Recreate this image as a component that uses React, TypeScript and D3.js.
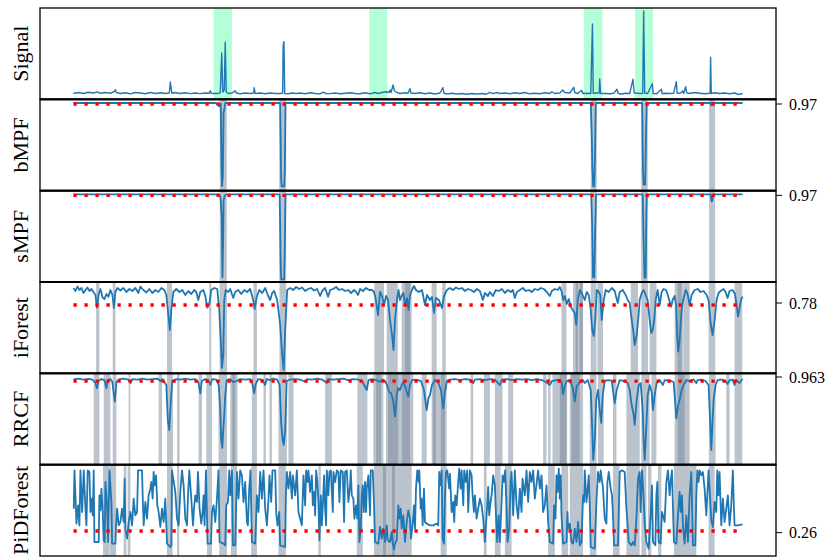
import React from 'react';
import * as d3 from 'd3';

type Pt = [number, number];
type Span = [number, number];

// Raw signal amplitude (time, value)
const signal: Pt[] = [
  [0, 6.5], [5, 7.5], [10, 6.5], [15, 7.7], [20, 7], [24, 8.2], [27, 6.7], [32, 7.5], [37, 6.7], [41, 8.5], [42, 10.3], [43, 7.5],
  [47, 6.5], [52, 7.2], [57, 6.2], [62, 7.5], [67, 7], [72, 6.3], [77, 7.5], [82, 6.5], [87, 7.2], [92, 6.5], [96, 7], [97, 18],
  [98.5, 6.8], [102, 7.5], [107, 6.5], [112, 7.2], [117, 6.4], [122, 7], [127, 6.4], [132, 7], [136, 6.7], [137, 9.3], [138, 6.7],
  [142, 6.5], [146, 6.7], [147, 8], [148.5, 47], [149.5, 8], [151, 10], [152, 57.7], [153, 8], [155, 6.5], [159, 7], [162, 9.3],
  [163, 7], [167, 6.2], [172, 7], [177, 6.5], [180.5, 7], [181, 12.3], [182, 6.5], [187, 7], [192, 6.2], [197, 7], [202, 6.5],
  [207, 6.5], [209.5, 7], [210, 55], [210.8, 58.3], [211.5, 6.5], [215, 6.2], [219, 7], [223, 6.5], [227, 7], [232, 6.2],
  [237, 7.2], [242, 6.5], [247, 6.2], [250, 7.8], [253, 6.5], [257, 6.4], [262, 7], [267, 6.2], [272, 6.8], [277, 7.2],
  [282, 6.5], [287, 6.2], [292, 7.2], [297, 6.2], [302, 7.5], [305, 6.5], [309, 7.5], [313, 8.2], [316, 7.5], [317, 10],
  [318, 7.5], [320, 15], [321.5, 9], [324, 7.5], [327, 6.5], [332, 7.2], [335, 6.7], [337, 11.3], [338, 7], [342, 6.5],
  [347, 7.2], [352, 6.2], [357, 7], [362, 6], [367, 7], [370, 12.3], [371, 6.7], [375, 6], [379, 6.8], [384, 6], [389, 6.5],
  [394, 5.7], [399, 6.5], [404, 6], [409, 6.5], [413, 5.7], [417, 7.7], [420, 6.4], [424, 7.5], [427, 6.5], [432, 7],
  [437, 6.2], [442, 7.2], [447, 6.5], [452, 7.5], [457, 6.2], [462, 6.8], [467, 6.2], [472, 7.2], [477, 6.5], [479, 8.2],
  [482, 6.5], [487, 7], [490, 10], [492, 7.5], [497, 7], [501, 12.7], [502, 7.5], [505, 6.5], [508.7, 9.7], [510, 6.5],
  [514, 6.7], [518, 6.5], [519.7, 76], [520.5, 6.5], [523, 7], [526.5, 7], [527, 21], [527.8, 6.5], [532, 6.5], [537, 6.2],
  [541, 6.8], [544.3, 10.7], [545.5, 6.5], [549, 6], [553, 6.7], [557, 6.5], [560.3, 20.7], [561.5, 7], [565, 6.7],
  [568, 6.5], [570, 6.7], [571, 89], [572, 7], [575, 6.5], [579.7, 16.3], [580.5, 6.5], [584, 6.2], [588.7, 10.7],
  [589.5, 6.5], [593, 6.8], [597, 6.5], [601, 6.7], [603.7, 18.3], [604.5, 6.8], [608, 7], [610, 9], [611, 6.5],
  [613, 13.3], [614, 7.2], [617, 6.5], [622, 7.5], [627, 6.8], [632, 6.2], [637.5, 6.8], [638, 42.7], [638.7, 6.5],
  [642, 7.2], [647, 6.5], [652, 7], [657, 6.2], [662, 7], [666, 5.5], [670, 6.5],
];

// Matrix-profile scores
const bmpf: Pt[] = [
  [0, 1.0], [142, 1.0], [144, 0.97], [146, 0.9], [147.5, 0.99], [148.3, -1.0], [148.8, -1.49], [149.6, -1.2], [150.3, 0.7],
  [151.3, 0.85], [152, 1.0], [207, 1.0], [208, -1.3], [208.5, -1.5], [211, -1.5], [211.7, -1.0], [212.3, 1.0], [518, 1.0],
  [519, 0.0], [519.7, -1.0], [520.5, -1.5], [521.5, -1.5], [522.3, -0.5], [523, 1.0], [569.5, 1.0], [570.3, -1.0],
  [571, -1.45], [572.5, -1.45], [573.3, 0.0], [574, 1.0], [638, 1.0], [638.7, 0.93], [639.3, 1.0], [670, 1.0],
];

const smpf: Pt[] = [
  [0, 1.0], [146, 1.0], [147.3, 0.9], [148.5, 0.3], [149.2, -1.49], [149.8, -0.5], [150.3, 0.8], [151.5, 0.96], [153, 1.0],
  [206.5, 1.0], [207.5, -1.0], [208, -1.55], [211, -1.55], [211.7, -0.5], [212.3, 1.0], [518.5, 1.0], [519.5, 0.0],
  [520.3, -1.49], [521.5, -1.49], [522.5, 0.0], [523.3, 1.0], [570, 1.0], [571, -0.5], [571.8, -1.5], [573, -1.5],
  [573.7, 0.5], [574.3, 1.0], [638, 1.0], [639, 0.79], [639.7, 0.8], [640.5, 1.0], [670, 1.0],
];

// Isolation forest scores
const iforest: Pt[] = [
  [0, .795], [2, .792], [4, .7965], [6, .793], [8, .795], [10, .790], [12, .793], [14, .7955], [16, .792], [18, .794],
  [20, .791], [22, .788], [23.5, .7753], [25, .788], [27, .794], [29, .786], [31, .784], [33, .789], [35, .7863], [37, .793],
  [39, .788], [40.5, .775], [42, .791], [44, .795], [47, .7925], [50, .795], [53, .791], [56, .794], [59, .792], [62, .795],
  [65, .790], [67, .7963], [70, .793], [73, .7905], [76, .794], [79, .790], [82, .793], [85, .791], [88, .795], [91, .793],
  [93, .788], [95, .768], [96.5, .753], [98, .773], [100, .791], [103, .794], [106, .791], [109, .793], [112, .788],
  [115, .792], [118, .789], [121, .793], [123, .791], [125, .783], [127, .791], [130, .793], [132, .787], [134, .7753],
  [136, .779], [138, .793], [141, .795], [144, .794], [146, .773], [147.5, .743], [148.7, .715], [150, .728], [151, .783],
  [152.5, .793], [155, .791], [157, .794], [160, .785], [162, .791], [165, .793], [168, .789], [171, .793], [174, .791],
  [177, .794], [180, .783], [181.5, .774], [183.5, .786], [186, .793], [189, .790], [192, .795], [195, .787], [197, .783],
  [199, .790], [201, .792], [204, .783], [207, .758], [209, .728], [210.5, .713], [212, .753], [214, .793], [217, .795],
  [220, .793], [223, .796], [226, .794], [229, .7955], [232, .792], [235, .794], [238, .795], [241, .7925], [244, .794],
  [247, .787], [249, .792], [252, .795], [255, .7863], [257, .793], [260, .794], [263, .796], [266, .793], [269, .794],
  [272, .792], [275, .793], [278, .790], [281, .793], [283, .791], [285, .788], [287, .794], [290, .792], [293, .795],
  [296, .793], [299, .793], [301, .791], [302.5, .785], [305, .768], [307, .791], [309, .787], [311, .778], [313, .787],
  [315, .783], [317, .763], [319, .748], [320.5, .733], [322, .763], [324, .783], [325.5, .793], [327, .783], [329, .788],
  [330.5, .790], [332, .778], [334, .785], [335.5, .773], [337, .788], [339, .793], [341, .797], [343, .793], [346, .791],
  [349, .793], [352, .778], [354, .788], [357, .783], [359, .786], [361, .770], [363, .785], [366, .783], [369, .775],
  [371, .787], [374, .793], [377, .795], [380, .793], [383, .7955], [386, .794], [389, .795], [392, .792], [395, .794],
  [398, .793], [401, .791], [404, .794], [407, .792], [410, .783], [412, .790], [415, .787], [417, .791], [420, .787],
  [423, .793], [426, .792], [429, .794], [432, .790], [435, .793], [438, .791], [440, .793], [442, .785], [444, .791],
  [447, .793], [450, .795], [453, .792], [456, .793], [459, .791], [462, .794], [465, .793], [468, .795], [471, .794],
  [474, .791], [477, .787], [479, .792], [482, .794], [485, .793], [487, .796], [489, .791], [490.5, .783], [492, .787],
  [494, .779], [496, .784], [498, .776], [500, .773], [502, .770], [503.5, .758], [505, .783], [507, .793], [509, .790],
  [512, .783], [514, .791], [516, .788], [518, .773], [519.5, .753], [521, .747], [522.5, .763], [524, .793], [526, .791],
  [527.5, .788], [529, .763], [531, .783], [533, .793], [536, .791], [539, .795], [542, .792], [545, .780], [547, .791],
  [550, .793], [553, .788], [555, .783], [557, .780], [559, .763], [560.5, .753], [562, .738], [564, .748], [565.5, .763],
  [567, .783], [569, .790], [571, .793], [573, .788], [575, .783], [577, .763], [578.5, .750], [580, .753], [581.5, .763],
  [583, .783], [585, .793], [587, .778], [589, .791], [591, .794], [593.5, .793], [596, .785], [598.5, .7763], [600, .783],
  [602, .787], [603.5, .778], [604.5, .748], [605.5, .7313], [607, .743], [609, .773], [610.5, .783], [613, .793],
  [615, .789], [617, .778], [619, .788], [622, .793], [625, .794], [628, .791], [631, .792], [634, .788], [636, .783],
  [638, .760], [640, .748], [642, .763], [644, .783], [646, .790], [648, .792], [651, .794], [653, .791], [655, .785],
  [657, .792], [660, .793], [662.5, .789], [664, .778], [665.5, .7663], [667, .775], [668.5, .783], [670, .7863],
];

// Robust random cut forest scores
const rrcf: Pt[] = [
  [0, .96277], [5, .96285], [10, .96275], [15, .96282], [19, .96275], [22, .9624], [23.5, .96187], [25, .9626], [28, .9628],
  [31, .9627], [33, .9619], [34.5, .9627], [37, .9628], [39, .9625], [40.5, .9612], [41.5, .96053], [43, .9625], [46, .9628],
  [50, .96285], [55, .96275], [57, .9624], [59, .9628], [64, .96275], [69, .96285], [74, .96275], [79, .9628], [84, .96285],
  [87, .9626], [89, .9628], [93, .9622], [94.5, .9587], [96, .9577], [97.5, .9607], [99, .9626], [103, .9628], [107, .96275],
  [112, .96285], [117, .96275], [122, .9628], [125, .9625], [127, .96137], [128.5, .9626], [132, .9628], [135, .9627],
  [137, .9622], [139, .9628], [143, .96275], [145.5, .9622], [147, .9597], [148, .9567], [149, .9559], [150, .9577],
  [151, .9592], [152, .9612], [153.5, .9627], [157, .9628], [160, .9625], [163, .9626], [167, .9628], [172, .96275],
  [177, .9628], [179.5, .9622], [181, .9614], [182.5, .9623], [185, .9628], [189, .96275], [192, .9622], [193.5, .9628],
  [197, .9627], [200, .96285], [204, .96275], [206.5, .9622], [208, .9584], [209.5, .9567], [210.5, .9562], [212, .9577],
  [213.5, .9626], [217, .96275], [222, .9628], [227, .96275], [232, .96253], [234, .9628], [239, .96275], [244, .96285],
  [249, .96275], [253.7, .9624], [255, .9628], [260, .96275], [265, .9628], [270, .96285], [275, .9627], [280, .9628],
  [285, .96275], [289, .9626], [293.7, .9617], [295.5, .9627], [299, .9628], [303, .9627], [307, .9625], [309, .96275],
  [312, .9626], [314, .9622], [316, .9615], [318, .9614], [320, .9607], [322, .95903], [323.7, .9612], [325, .9619],
  [327, .9617], [329, .9623], [330.3, .9625], [332, .9621], [335.3, .96103], [337, .9622], [339, .9627], [342, .96275],
  [345, .9627], [348, .9626], [351, .9617], [353.7, .9597], [355.5, .9609], [357, .9612], [359, .9622], [362, .9627],
  [365, .9625], [368, .9617], [370.3, .95987], [372, .9615], [374, .9626], [377, .96275], [382, .9628], [387, .9627],
  [392, .9628], [397, .96275], [400.3, .9624], [402, .96275], [407, .9628], [412, .9627], [417, .9628], [422, .96275],
  [427, .9622], [429, .96275], [434, .9628], [439, .9627], [444, .9628], [449, .96275], [454, .9628], [459, .9627],
  [464, .9628], [469, .9627], [473, .9625], [477, .9622], [479, .9626], [483, .9627], [487, .96275], [489, .9624],
  [490.3, .96127], [492, .9621], [494, .9626], [497, .9627], [500, .9619], [502, .96053], [504, .9621], [507, .9625],
  [510, .9627], [512, .9624], [515, .9627], [518, .9617], [519.5, .9577], [520.5, .9547], [522, .9567], [523.5, .9607],
  [525.3, .9617], [527, .9597], [528.5, .9584], [530, .9612], [532, .9626], [535, .9627], [539, .96265], [542, .96037],
  [544, .9617], [547, .9627], [552, .9626], [555, .9624], [557, .9617], [559, .9602], [561, .9592], [562, .9582],
  [564, .9607], [566, .9622], [568, .9624], [570, .9597], [571, .9567], [572, .9547], [573.5, .9577], [575, .9612],
  [577, .9622], [579, .9615], [580.3, .9597], [582, .9612], [584, .9624], [587, .9627], [590.3, .9622], [592, .9627],
  [597, .96265], [601, .9625], [603.7, .95887], [605.5, .9602], [607, .9607], [609, .9617], [611, .9622], [614, .9627],
  [617, .9626], [621, .96275], [623.7, .9624], [625, .9627], [629, .96275], [633, .9626], [636, .9622], [637.5, .9587],
  [638.7, .9557], [640, .9587], [641, .9607], [643, .9622], [645, .9627], [649, .96275], [653, .9626], [655, .9623],
  [657, .9627], [660, .96275], [662, .9622], [664, .9627], [667, .9624], [670, .9628],
];

// PiDForest scores
const pidforest: Pt[] = [
  [0.3, .332], [1, .447], [2, .372], [3, .287], [4.7, .342], [6, .282], [7, .447], [8.7, .322], [10.3, .447], [12, .332],
  [13, .282], [14.3, .447], [16, .442], [17, .322], [18, .362], [19.3, .312], [20.3, .447], [21, .232], [25.3, .232],
  [26, .372], [27, .327], [28, .392], [29.3, .322], [30.3, .237], [31.3, .232], [32, .412], [33.7, .342], [34.7, .232],
  [36, .447], [38, .352], [38.7, .227], [42, .227], [42.7, .282], [43.7, .332], [45.3, .282], [47, .292], [48.7, .332],
  [50.3, .292], [51.3, .422], [52, .272], [53.7, .242], [55.3, .292], [57, .322], [58.7, .282], [60.3, .362], [62, .312],
  [63.7, .322], [64.7, .447], [68.7, .447], [69.3, .372], [70.3, .282], [72, .352], [73.7, .302], [75.3, .372], [77, .392],
  [78, .412], [79.3, .362], [80.3, .442], [81.3, .402], [82.7, .432], [84, .342], [85.3, .322], [87, .277], [88.7, .332],
  [90.3, .292], [92, .362], [93.7, .227], [97, .217], [98, .222], [98.7, .447], [102, .382], [103.7, .302], [105.3, .282],
  [107, .382], [108.7, .447], [110.3, .402], [112, .302], [113.7, .282], [114.7, .372], [116, .447], [118, .362],
  [119.7, .282], [120.7, .332], [122, .372], [123.7, .352], [124.7, .442], [126.3, .332], [128, .287], [129.3, .322],
  [130.3, .372], [131.3, .282], [132.7, .447], [134.3, .227], [137.7, .227], [138.7, .322], [140.3, .342], [142, .292],
  [143.7, .362], [145.3, .447], [146.3, .232], [150.3, .227], [152, .222], [153, .342], [154.7, .352], [156, .447],
  [157, .372], [158.7, .447], [159.7, .222], [162, .222], [163.7, .442], [165.3, .362], [167, .447], [168.7, .432],
  [170.3, .352], [172, .412], [173.7, .292], [174.7, .282], [176, .392], [177.3, .447], [178.7, .232], [182, .227],
  [183.7, .372], [185.3, .322], [187, .442], [188.7, .362], [190.3, .447], [192, .332], [193.7, .282], [195.3, .362],
  [196.3, .432], [198, .352], [199.3, .447], [202, .447], [203, .322], [204.3, .282], [206, .322], [207, .222], [212, .217],
  [212.7, .372], [213.7, .442], [215.3, .392], [217, .442], [218.7, .362], [219.7, .432], [222, .372], [223.7, .447],
  [225.3, .322], [228.7, .282], [230.3, .432], [232, .342], [233, .447], [234.3, .412], [235.3, .447], [237, .382],
  [238.7, .432], [239.7, .342], [241, .382], [242, .312], [243, .447], [244.3, .412], [245.3, .352], [246.3, .237],
  [247, .302], [247.7, .372], [248.7, .282], [249.7, .342], [251, .432], [252, .332], [253, .282], [253.7, .447],
  [255.3, .372], [256.3, .442], [257.7, .447], [259.7, .322], [260.3, .442], [262, .412], [263.7, .447], [265.3, .442],
  [266.3, .352], [267.7, .447], [269.7, .442], [271, .292], [272, .442], [273.7, .447], [275.3, .352], [277, .402],
  [277.7, .447], [278.7, .372], [280.3, .362], [281.3, .302], [283, .342], [284.3, .302], [285.3, .402], [286.3, .232],
  [287.7, .272], [288.7, .372], [289.7, .402], [290.7, .322], [292, .412], [293, .322], [293.7, .392], [295.3, .432],
  [297, .312], [297.7, .447], [299.7, .447], [301, .342], [302, .232], [305.3, .227], [307, .277], [308.7, .242],
  [310.3, .272], [312, .232], [313.7, .282], [314.7, .237], [317, .232], [318.7, .262], [319.7, .227], [321, .210],
  [322, .227], [323.7, .237], [325.3, .342], [326.3, .302], [327.7, .332], [328.7, .272], [330.3, .312], [332, .232],
  [333.7, .292], [335.3, .327], [337, .302], [338, .242], [339.7, .287], [341, .342], [342, .272], [343, .392],
  [344.3, .447], [345.7, .412], [346.3, .447], [347.7, .332], [348.7, .362], [349.7, .282], [351, .392], [352, .292],
  [353.7, .287], [357, .282], [360.3, .282], [363.7, .287], [365.3, .282], [366.3, .442], [367.7, .402], [368.7, .447],
  [369.7, .242], [371, .227], [372, .372], [373, .442], [374.3, .447], [376.3, .392], [377, .437], [378.7, .322],
  [380.3, .352], [381.3, .292], [382.3, .372], [383.7, .342], [385.3, .412], [386.3, .452], [387.7, .392], [388.7, .447],
  [390.3, .342], [391.3, .447], [393, .412], [394.3, .447], [395.3, .322], [397, .447], [398.7, .432], [399.7, .372],
  [401, .322], [402, .372], [403.7, .302], [405.3, .332], [407, .362], [408.7, .342], [410.3, .302], [412, .232],
  [413.7, .312], [415.3, .397], [416.3, .312], [417.7, .352], [418.7, .372], [420.3, .432], [422, .402], [423, .322],
  [424.3, .232], [425.7, .312], [427, .232], [428.7, .352], [429.7, .432], [431, .412], [432.3, .447], [433.7, .342],
  [434.7, .232], [436.3, .272], [437.7, .412], [438.7, .442], [440.3, .312], [442, .447], [443.7, .342], [445.3, .302],
  [447, .392], [448.7, .322], [449.7, .422], [452, .372], [453.7, .447], [455.3, .352], [457, .442], [458.7, .412],
  [460.3, .447], [462, .362], [465.3, .447], [467, .392], [468.7, .432], [470.3, .322], [472, .342], [473.7, .402],
  [475.3, .292], [477, .232], [480.3, .227], [481.3, .342], [482.7, .302], [483.7, .432], [484.7, .382], [486, .452],
  [487, .362], [488, .432], [488.7, .312], [490.3, .227], [493.7, .232], [494.7, .322], [495.3, .272], [497, .287],
  [498.7, .232], [500.3, .227], [502, .272], [503.7, .232], [505.3, .292], [507, .222], [508.7, .232], [510.3, .372],
  [511.3, .352], [512, .447], [513.7, .352], [514.7, .382], [516, .432], [517, .342], [518, .217], [522, .212], [523, .302],
  [524, .372], [525.3, .442], [527, .412], [528, .447], [530.3, .392], [532, .302], [533.7, .287], [534.7, .412],
  [536, .442], [538, .392], [539.3, .372], [540.3, .312], [541.3, .222], [545.3, .222], [547, .442], [549.3, .447],
  [552, .442], [553.7, .332], [554.7, .292], [556, .232], [558.7, .222], [560.3, .232], [562, .222], [563.7, .302],
  [565.3, .422], [567, .442], [568, .322], [569.3, .447], [570.7, .382], [572, .287], [573.7, .232], [576, .212],
  [578, .312], [579.3, .402], [580.3, .232], [582.7, .222], [583.7, .372], [584.7, .412], [586, .232], [588, .227],
  [589.3, .322], [590.3, .312], [592, .292], [593.7, .412], [595.3, .447], [597, .372], [598, .412], [599.3, .447],
  [601.3, .232], [603.7, .227], [605.3, .312], [607, .382], [608, .322], [609.3, .372], [610.3, .282], [612, .227],
  [613.7, .312], [615.3, .232], [617, .372], [618.7, .442], [620.3, .222], [622.7, .222], [623.7, .372], [624.7, .447],
  [626, .412], [627, .447], [628.7, .432], [630.3, .442], [632, .392], [633.7, .312], [634.7, .372], [636, .447],
  [637, .392], [638.7, .297], [640.3, .277], [642, .352], [643.7, .322], [644.7, .447], [646, .372], [647, .442],
  [648.7, .282], [650.3, .362], [652, .292], [653.7, .332], [655.3, .372], [657, .282], [658.7, .342], [660.3, .447],
  [661.3, .342], [662, .282], [665.3, .282], [668.7, .284], [670, .284],
];

// Labelled anomaly windows
const labelWindows: Span[] = [[140.3, 158.7], [296.3, 314.3], [511, 529.7], [562.3, 580.3]];

// Detected anomaly windows per method
const bmpfAlarms: Span[] = [[146.5, 153.5], [206, 213], [518, 524], [568.5, 575], [636.5, 642.5]];
const smpfAlarms: Span[] = [[146.5, 153.5], [206, 213], [518, 524], [568.5, 575], [636.5, 642.5]];
const iforestAlarms: Span[] = [
  [22.7, 26], [39.3, 42], [93.7, 98.7], [136, 138], [146.3, 153.7], [180.3, 183.7], [206.3, 213], [301.3, 307], [307, 311],
  [313.7, 324.7], [328.7, 338.7], [332, 337], [358.7, 363.7], [369.3, 372.7], [488.7, 493.7], [500.3, 510.3], [503, 505],
  [507, 510], [518, 523.7], [524.7, 530.3], [558, 565.3], [568.7, 575.3], [577, 583.7], [602, 611], [605, 609], [611.3, 617],
  [636, 642.7], [662, 669.7],
];
const rrcfAlarms: Span[] = [
  [20.3, 26], [30.3, 37], [39.3, 43], [55.3, 57], [85.3, 88.7], [93.7, 99.7], [103.7, 106.3], [125.3, 128.7], [133, 138.7],
  [145.3, 153.7], [157, 164.3], [159, 162], [178.7, 183.7], [190.3, 192.7], [196.3, 198.7], [205.3, 213.7], [215.3, 220.3],
  [252, 258.7], [284.3, 294.3], [300.3, 310.3], [303, 308], [313, 340.3], [315, 325], [329, 337], [348.7, 353.7],
  [358.7, 373.7], [360, 363], [368, 372], [397.7, 400.3], [411, 417], [422, 429.7], [435.3, 440.3], [470.3, 473.7],
  [475.3, 477.7], [479.7, 494.3], [487, 493.7], [497, 507], [498.7, 510.3], [517, 523.7], [525.3, 531], [540.3, 543.7],
  [553.7, 567], [568.7, 577], [578.7, 583.7], [602, 617], [605, 612], [636.3, 643], [653.7, 657], [662, 669.7],
];
const pidforestAlarms: Span[] = [
  [29.7, 36], [36.3, 42.7], [50.3, 53], [54.3, 57], [93.7, 99.3], [103.7, 106], [133.7, 138.7], [146, 153.7], [157.7, 163.7],
  [178, 183.7], [205.3, 212.7], [245.3, 247.7], [283.7, 289.7], [301, 307], [307, 314.3], [310, 313], [314.3, 323.7],
  [319, 322], [323.7, 327], [327, 338.7], [367.7, 373.7], [411, 413.7], [422, 427.7], [432, 438.7], [475.3, 482],
  [488.7, 495.3], [497, 505.3], [505.3, 510.3], [517, 523.7], [540.3, 547], [553.7, 562], [562, 567], [568.7, 573.7],
  [575.3, 578.7], [585.3, 588.7], [601.3, 610.3], [610.3, 618.7], [618.7, 623.7], [636, 642],
];

const thresholds = { bmpf: 0.97, smpf: 0.97, iforest: 0.778, rrcf: 0.9626, pidforest: 0.265 };
const tickValues = { bmpf: 0.97, smpf: 0.97, iforest: 0.78, rrcf: 0.963, pidforest: 0.26 };
const tickLabels = { bmpf: '0.97', smpf: '0.97', iforest: '0.78', rrcf: '0.963', pidforest: '0.26' };

const WIDTH = 834;
const HEIGHT = 557;
const LEFT = 40;
const RIGHT = 776;
const TOP = 8;
const BOTTOM = 556;
const FONT = '"Liberation Serif", "Times New Roman", serif';

type Panel = {
  name: string;
  data: Pt[];
  domain: [number, number];
  spans: Span[];
  windows?: Span[];
  threshold?: number;
  tick?: number;
  tickLabel?: string;
  lineWidth: number;
};

const panels: Panel[] = [
  { name: 'Signal', data: signal, domain: [0.67, 92], spans: [], windows: labelWindows, lineWidth: 1.4 },
  { name: 'bMPF', data: bmpf, domain: [-1.63, 1.11], spans: bmpfAlarms, threshold: thresholds.bmpf, tick: tickValues.bmpf, tickLabel: tickLabels.bmpf, lineWidth: 1.8 },
  { name: 'sMPF', data: smpf, domain: [-1.63, 1.11], spans: smpfAlarms, threshold: thresholds.smpf, tick: tickValues.smpf, tickLabel: tickLabels.smpf, lineWidth: 1.8 },
  { name: 'iForest', data: iforest, domain: [0.70967, 0.801], spans: iforestAlarms, threshold: thresholds.iforest, tick: tickValues.iforest, tickLabel: tickLabels.iforest, lineWidth: 1.8 },
  { name: 'RRCF', data: rrcf, domain: [0.95423, 0.96337], spans: rrcfAlarms, threshold: thresholds.rrcf, tick: tickValues.rrcf, tickLabel: tickLabels.rrcf, lineWidth: 1.8 },
  { name: 'PiDForest', data: pidforest, domain: [0.190, 0.464], spans: pidforestAlarms, threshold: thresholds.pidforest, tick: tickValues.pidforest, tickLabel: tickLabels.pidforest, lineWidth: 1.8 },
];

export default function App() {
  const tExtent = d3.extent(signal, (d) => d[0]) as [number, number];
  const pad = (tExtent[1] - tExtent[0]) * 0.05;
  const x = d3.scaleLinear().domain([tExtent[0] - pad, tExtent[1] + pad]).range([LEFT, RIGHT]);
  const panelH = (BOTTOM - TOP) / panels.length;

  return (
    <svg width={WIDTH} height={HEIGHT} style={{ position: 'absolute', left: 0, top: 0, background: '#fff' }}>
      <rect x={0} y={0} width={WIDTH} height={HEIGHT} fill="#fff" />
      {panels.map((p, i) => {
        const top = TOP + i * panelH;
        const bottom = top + panelH;
        const y = d3.scaleLinear().domain(p.domain).range([bottom, top]);
        const line = d3.line<Pt>().x((d) => x(d[0])).y((d) => y(d[1]));
        return (
          <g key={p.name}>
            {(p.windows || []).map((s, k) => (
              <rect key={'w' + k} x={x(s[0])} y={top} width={x(s[1]) - x(s[0])} height={panelH} fill="springgreen" fillOpacity={0.3} />
            ))}
            {p.spans.map((s, k) => (
              <rect key={'s' + k} x={x(s[0])} y={top} width={x(s[1]) - x(s[0])} height={panelH} fill="#778899" fillOpacity={0.5} />
            ))}
            <path d={line(p.data) || ''} fill="none" stroke="#1f77b4" strokeWidth={p.lineWidth} strokeLinejoin="round" />
            {p.threshold !== undefined && (
              <line x1={x(tExtent[0])} x2={x(tExtent[1])} y1={y(p.threshold)} y2={y(p.threshold)}
                stroke="#ff0000" strokeWidth={3.3} strokeDasharray="3.3 7.7" />
            )}
            <rect x={LEFT} y={top} width={RIGHT - LEFT} height={panelH} fill="none" stroke="#000" strokeWidth={1.3} />
            {p.tick !== undefined && (
              <g>
                <line x1={RIGHT} x2={RIGHT + 6} y1={y(p.tick)} y2={y(p.tick)} stroke="#000" strokeWidth={1} />
                <text x={RIGHT + 13} y={y(p.tick)} dy="0.35em" fontFamily={FONT} fontSize={16} fill="#000">{p.tickLabel}</text>
              </g>
            )}
            <text transform={`translate(28,${top + panelH / 2}) rotate(-90)`} textAnchor="middle" fontFamily={FONT} fontSize={22} fill="#000">
              {p.name}
            </text>
          </g>
        );
      })}
      {panels.slice(1).map((p, i) => {
        const yy = TOP + (i + 1) * panelH;
        return <line key={'sep' + p.name} x1={LEFT} x2={RIGHT} y1={yy} y2={yy} stroke="#000" strokeWidth={2.2} />;
      })}
    </svg>
  );
}
